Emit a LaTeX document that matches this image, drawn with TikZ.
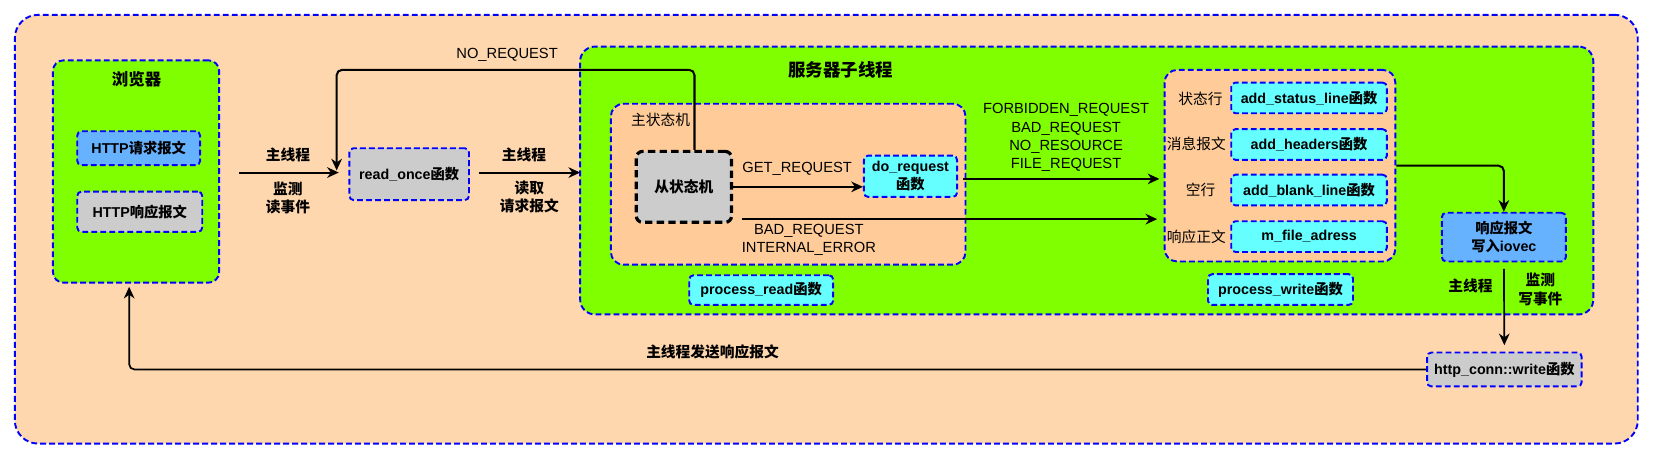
\documentclass[tikz,border=0pt]{standalone}
\usepackage{fontspec}
\setmainfont{Liberation Sans}
\newfontfamily\cjk{Noto Sans CJK SC}
\usetikzlibrary{arrows.meta}
\definecolor{peach}{HTML}{FFD7AE}
\definecolor{peachdark}{HTML}{FFCC99}
\definecolor{lgreen}{HTML}{80FF00}
\definecolor{lcyan}{HTML}{66FFFF}
\definecolor{lblue}{HTML}{66B2FF}
\definecolor{lgray}{HTML}{CCCCCC}
\definecolor{bord}{HTML}{0000FF}
\newcommand\zh[1]{{\cjk #1}}
\begin{document}
\begin{tikzpicture}[x=1pt,y=-1pt,
  container/.style={draw=bord, line width=1.8pt, dash pattern=on 5.5pt off 3pt, rounded corners=#1, inner sep=0pt},
  fbox/.style={draw=bord, line width=1.8pt, dash pattern=on 5.5pt off 3pt, rounded corners=4pt, inner sep=0pt,
     align=center, font=\bfseries\fontsize{13.5}{16.5}\selectfont},
  lbl/.style={inner sep=0pt, align=center, font=\fontsize{13.9}{17.3}\selectfont},
  blbl/.style={inner sep=0pt, align=center, font=\bfseries\fontsize{13.9}{17.3}\selectfont},
  conn/.style={line width=1.9pt, rounded corners=5pt, -{Stealth[length=11pt,width=10pt,inset=3.5pt]}}
]
\path[use as bounding box] (0,0) rectangle (1568,449);

% containers
\node[container=22pt, fill=peach, minimum width=1533pt, minimum height=405pt] (outer) at (780.5,216.5) {};
\node[container=10pt, fill=lgreen, minimum width=157pt, minimum height=210pt] (browser) at (128.5,162) {};
\node[container=14pt, fill=lgreen, minimum width=957pt, minimum height=253pt] (server) at (1026.5,170.5) {};
\node[container=12pt, fill=peachdark, minimum width=335pt, minimum height=152pt] (mainsm) at (744.5,174) {};
\node[container=12pt, fill=peachdark, minimum width=218pt, minimum height=181pt] (writebox) at (1209,156.5) {};

% titles
\node[blbl, font=\bfseries\fontsize{15.5}{18}\selectfont] (browsertitle) at (129,75) {\zh{浏览器}};
\node[blbl, font=\bfseries\fontsize{16.5}{19}\selectfont] (servertitle) at (794,66) {\zh{服务器子线程}};
\node[lbl] (mainsmtitle) at (624,113) {\zh{主状态机}};

% boxes
\node[fbox, fill=lblue, minimum width=116pt, minimum height=32pt] (req) at (131,140) {HTTP\zh{请求报文}};
\node[fbox, fill=lgray, minimum width=118pt, minimum height=38pt] (resp) at (132,200) {HTTP\zh{响应报文}};
\node[fbox, fill=lgray, minimum width=113pt, minimum height=49pt] (readonce) at (386.5,164.5) {read\_once\zh{函数}};
\node[draw=black, line width=3pt, dash pattern=on 7pt off 4pt, rounded corners=6pt, fill=lgray,
      minimum width=90pt, minimum height=67pt, inner sep=0pt, font=\bfseries\fontsize{13.9}{17}\selectfont] (subsm) at (646,176.5) {\zh{从状态机}};
\node[fbox, fill=lcyan, minimum width=88pt, minimum height=39pt] (dorequest) at (860,166.5) {do\_request\\\zh{函数}};
\node[fbox, fill=lcyan, minimum width=136pt, minimum height=28pt] (pread) at (719,274) {process\_read\zh{函数}};
\node[fbox, fill=lcyan, minimum width=147pt, minimum height=29pt] (status) at (1236.5,92.5) {add\_status\_line\zh{函数}};
\node[fbox, fill=lcyan, minimum width=147pt, minimum height=29pt] (headers) at (1236.5,136.5) {add\_headers\zh{函数}};
\node[fbox, fill=lcyan, minimum width=147pt, minimum height=29pt] (blank) at (1236.5,179.5) {add\_blank\_line\zh{函数}};
\node[fbox, fill=lcyan, minimum width=147pt, minimum height=29pt] (mfile) at (1236.5,223.5) {m\_file\_adress};
\node[fbox, fill=lblue, minimum width=117pt, minimum height=46pt] (iovec) at (1420.5,224) {\zh{响应报文}\\\zh{写入}iovec};
\node[fbox, fill=lcyan, minimum width=137pt, minimum height=29pt] (pwrite) at (1209.5,273.5) {process\_write\zh{函数}};
\node[fbox, fill=lgray, minimum width=146pt, minimum height=32pt] (httpconn) at (1421,349) {http\_conn::write\zh{函数}};

% write box side labels
\node[lbl] (l1) at (1134,93) {\zh{状态行}};
\node[lbl] (l2) at (1130,136) {\zh{消息报文}};
\node[lbl] (l3) at (1134,179) {\zh{空行}};
\node[lbl] (l4) at (1130,224) {\zh{响应正文}};

% connector end points
\coordinate (inpt) at (320,163);
\coordinate (a1s) at (226,163);
\coordinate (a2s) at (452,163);
\coordinate (a2e) at (548,163);

% connectors
\draw[conn] (a1s) -- (inpt);
\draw[conn] (subsm.north -| 656,0) -- (656,66) -- (318,66) -- (318,161);
\draw[conn] (a2s) -- (a2e);
\draw[conn] (subsm.east) -- (subsm.east -| dorequest.west);
\draw[conn] ([xshift=5pt]dorequest.east |- 0,169) -- ([xshift=-4pt]writebox.west |- 0,169);
\draw[conn] (701,207) -- ([xshift=-6pt]writebox.west |- 0,207);
\draw[conn] (writebox.east) -- (writebox.east -| iovec.north) -- (iovec.north);
\draw[conn, line width=1.6pt, shorten <=6pt, shorten >=6pt] (iovec.south) -- (httpconn.north);
\draw[conn, line width=1.6pt, shorten >=3pt] (httpconn.west) -| ([xshift=-6.5pt]browser.south);

% labels
\node[blbl] (t1) at (272,146) {\zh{主线程}};
\node[blbl] (t2) at (272,187) {\zh{监测}\\\zh{读事件}};
\node[blbl] (t3) at (495,146) {\zh{主线程}};
\node[blbl] (t4) at (500,186) {\zh{读取}\\\zh{请求报文}};
\node[lbl] (t5) at (479,52) {NO\_REQUEST};
\node[lbl] (t6) at (753,159) {GET\_REQUEST};
\node[lbl] (t7) at (1007,130) {FORBIDDEN\_REQUEST\\BAD\_REQUEST\\NO\_RESOURCE\\FILE\_REQUEST};
\node[lbl] (t8) at (764,226.5) {BAD\_REQUEST\\INTERNAL\_ERROR};
\node[blbl] (t9) at (1389,270) {\zh{主线程}};
\node[blbl] (t10) at (1455,273.5) {\zh{监测}\\\zh{写事件}};
\node[blbl] (t11) at (673,332) {\zh{主线程发送响应报文}};
\end{tikzpicture}
\end{document}
